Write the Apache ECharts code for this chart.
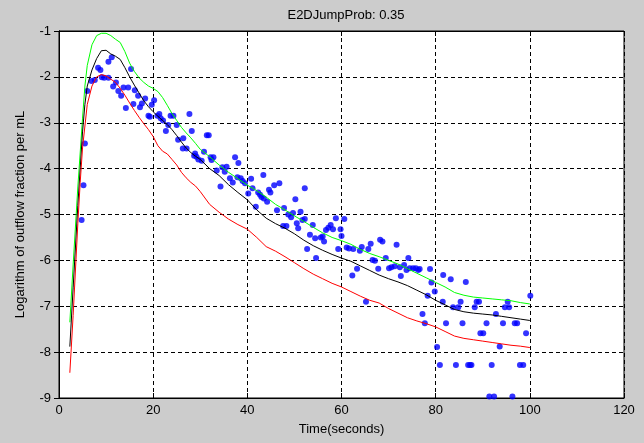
<!DOCTYPE html>
<html><head><meta charset="utf-8">
<script src="https://cdn.jsdelivr.net/npm/echarts@6/dist/echarts.min.js"></script>
<style>html,body{margin:0;padding:0;background:#cccccc;}#c{width:644px;height:443px;}</style>
</head><body><div id="c"></div>
<script>
const titleText = 'E2DJumpProb: 0.35';
const xName = 'Time(seconds)';
const yName = 'Logarithm of outflow fraction per mL';

const greenX = [2.3,3,4,5,5.5,6,7,8,9,10,11,12,13,14,15,16,17,18,19,20,21,22,23,24,25,26,27,28,29,30,32,34,36,38,40,42,44,46,48,50,52,54,56,58,60,62,64,66,68,70,72,74,76,78,80,82,84,86,88,90,92,94,96,98,100];
const greenY = [-7.35,-6.1,-4.4,-2.9,-2.2,-1.75,-1.3,-1.1,-1.05,-1.05,-1.1,-1.18,-1.25,-1.45,-1.7,-1.88,-2.02,-2.12,-2.2,-2.25,-2.32,-2.45,-2.62,-2.8,-2.95,-3.1,-3.22,-3.33,-3.45,-3.58,-3.74,-3.92,-4.08,-4.22,-4.36,-4.48,-4.62,-4.78,-4.9,-5.03,-5.15,-5.28,-5.4,-5.5,-5.57,-5.65,-5.76,-5.85,-5.92,-6.0,-6.08,-6.18,-6.28,-6.38,-6.48,-6.58,-6.7,-6.76,-6.8,-6.82,-6.84,-6.86,-6.88,-6.92,-6.95];

const blackX = [2.3,3,4,5,5.5,6,7,8,9,10,11,12,13,14,15,16,17,18,19,20,21,22,23,24,25,26,27,28,29,30,32,34,36,38,40,42,44,46,48,50,52,54,56,58,60,62,64,66,68,70,72,74,76,78,80,82,84,86,88,90,92,94,96,98,100];
const blackY = [-7.88,-6.6,-4.8,-3.2,-2.6,-2.2,-1.85,-1.6,-1.43,-1.42,-1.5,-1.55,-1.62,-1.8,-2.0,-2.18,-2.35,-2.52,-2.65,-2.76,-2.86,-2.95,-3.04,-3.15,-3.28,-3.42,-3.55,-3.65,-3.73,-3.8,-4.0,-4.15,-4.35,-4.52,-4.68,-4.9,-5.08,-5.2,-5.3,-5.42,-5.56,-5.68,-5.78,-5.87,-5.95,-6.02,-6.12,-6.22,-6.32,-6.4,-6.47,-6.55,-6.65,-6.75,-6.87,-6.97,-7.07,-7.12,-7.15,-7.17,-7.19,-7.22,-7.25,-7.28,-7.31];

const redX = [2.3,3,4,4.5,5,6,7,8,9,10,11,12,13,14,15,16,17,18,19,20,21,22,23,24,25,26,27,28,29,30,32,34,36,38,40,42,44,46,48,50,52,54,56,58,60,62,64,66,68,70,72,74,76,78,80,82,84,86,88,90,92,94,96,98,100];
const redY = [-8.45,-7.2,-5.2,-4.3,-3.55,-2.6,-2.2,-2.0,-1.95,-1.98,-2.05,-2.12,-2.25,-2.4,-2.57,-2.73,-2.88,-3.02,-3.15,-3.3,-3.5,-3.62,-3.68,-3.8,-3.92,-4.08,-4.2,-4.3,-4.38,-4.5,-4.78,-4.95,-5.1,-5.22,-5.32,-5.5,-5.7,-5.8,-5.92,-6.05,-6.18,-6.3,-6.4,-6.5,-6.58,-6.68,-6.78,-6.87,-6.93,-7.05,-7.15,-7.25,-7.32,-7.38,-7.45,-7.55,-7.65,-7.7,-7.73,-7.76,-7.79,-7.82,-7.85,-7.87,-7.9];

const dotX = [4.8,5.2,5.5,6.0,6.9,7.6,8.3,8.8,9.1,9.6,10.5,10.5,11.2,11.5,12.1,12.6,13.2,13.7,14.2,14.7,15.3,15.8,16.1,16.8,17.2,17.6,18.3,19.0,19.3,19.7,20.2,20.9,21.3,21.6,22.1,22.7,23.2,23.7,24.3,25.0,25.3,26.3,26.4,27.1,27.7,28.2,28.7,28.9,29.2,29.6,30.3,30.8,31.4,31.8,32.2,32.4,32.8,33.5,34.3,34.7,35.2,35.6,36.3,36.9,37.4,37.9,38.1,38.6,39.0,39.5,40.2,40.8,41.1,41.8,42.3,42.7,43.0,43.4,43.5,44.2,44.6,44.9,45.7,46.3,46.8,47.6,47.8,48.3,48.7,49.3,49.7,50.2,50.5,50.8,51.3,51.7,52.2,52.2,52.7,53.3,53.9,54.4,54.6,55.6,56.0,56.3,56.7,57.2,57.7,58.2,58.8,59.3,59.8,60.0,60.6,61.1,61.6,62.3,62.5,63.3,63.9,64.3,65.2,65.7,66.2,66.6,67.1,67.8,68.2,68.7,69.4,70.1,70.6,71.3,71.7,72.4,72.6,73.3,73.8,74.2,74.5,75.2,75.8,76.3,76.6,77.2,77.7,78.3,78.8,79.1,79.8,80.3,80.9,81.5,81.6,82.2,83.2,83.7,84.3,84.8,85.3,85.7,86.4,86.9,87.3,87.6,88.3,88.7,89.2,89.5,90.1,90.8,91.4,91.9,92.4,92.8,93.6,94.3,94.7,95.3,95.6,96.3,96.8,97.3,97.9,98.6,99.2,100.1];
const dotY = [-5.12,-4.36,-3.45,-2.31,-2.09,-2.07,-1.80,-1.85,-2.01,-2.02,-2.02,-1.67,-1.57,-2.21,-2.12,-2.31,-2.41,-2.23,-2.68,-2.23,-1.83,-2.59,-2.29,-2.41,-2.66,-2.58,-2.47,-2.85,-2.87,-2.61,-2.51,-2.85,-2.81,-2.90,-2.95,-3.18,-3.05,-2.85,-2.85,-3.05,-3.37,-3.56,-3.34,-3.56,-2.81,-3.18,-3.72,-3.67,-3.74,-3.80,-3.83,-3.63,-3.27,-3.27,-3.75,-3.81,-3.75,-4.04,-4.39,-3.97,-4.07,-3.96,-4.21,-4.30,-3.75,-4.19,-3.88,-4.21,-4.27,-4.32,-4.54,-4.22,-4.43,-4.83,-4.52,-4.57,-4.62,-4.14,-4.65,-4.72,-4.46,-4.52,-4.36,-4.91,-4.32,-5.25,-4.86,-5.25,-5.00,-5.06,-4.97,-4.67,-5.19,-5.30,-4.94,-5.12,-4.43,-5.10,-5.75,-5.44,-5.23,-5.52,-5.95,-5.50,-5.48,-5.59,-5.34,-5.29,-5.23,-5.32,-5.08,-5.75,-5.32,-5.47,-5.10,-5.72,-5.74,-6.33,-5.75,-6.18,-5.79,-5.71,-6.90,-5.75,-5.64,-5.99,-6.01,-6.18,-5.55,-5.59,-5.95,-6.17,-6.15,-6.13,-5.66,-6.15,-6.34,-6.10,-6.21,-5.95,-6.17,-6.17,-6.17,-6.21,-6.19,-7.17,-7.37,-6.77,-6.19,-6.48,-6.68,-7.89,-8.28,-6.90,-6.32,-7.37,-6.41,-7.02,-8.28,-7.02,-6.90,-7.37,-6.47,-8.28,-8.28,-8.28,-7.02,-6.90,-6.90,-7.59,-7.59,-7.37,-8.97,-8.28,-8.97,-7.17,-7.88,-7.37,-7.02,-6.90,-7.02,-8.97,-7.37,-7.37,-8.28,-8.28,-7.59,-6.77];

const xTicks = [0,20,40,60,80,100,120];
const yTicks = [-9,-8,-7,-6,-5,-4,-3,-2,-1];

const zip = (a,b) => a.map((v,i)=>[v,b[i]]);
const font = 'Liberation Sans, Arial, sans-serif';
const gridLine = {show:true, lineStyle:{color:'#000', type:[4,3], width:1}};

const chart = echarts.init(document.getElementById('c'), null, {renderer:'canvas'});
chart.setOption({
  backgroundColor:'#cccccc',
  animation:false,
  title:{text:titleText, left:341, textAlign:'center', top:4,
    textStyle:{fontFamily:font, fontSize:13, fontWeight:'normal', color:'#000'}},
  grid:{left:59, right:20, top:31, bottom:45, show:true, backgroundColor:'#fff', borderColor:'#000', borderWidth:1},
  xAxis:[{type:'value', min:xTicks[0], max:xTicks[xTicks.length-1], interval:xTicks[1]-xTicks[0],
    name:xName, nameLocation:'middle', nameGap:25,
    nameTextStyle:{fontFamily:font, fontSize:13, color:'#000'},
    axisLine:{show:true, lineStyle:{color:'#000'}}, axisTick:{show:true, inside:true, length:5, lineStyle:{color:'#000'}},
    axisLabel:{fontFamily:font, fontSize:13, color:'#000', margin:6},
    splitLine:gridLine},
   {type:'value', position:'top', min:xTicks[0], max:xTicks[xTicks.length-1], interval:xTicks[1]-xTicks[0],
    axisLine:{show:true, lineStyle:{color:'#000'}}, axisTick:{show:true, inside:true, length:5, lineStyle:{color:'#000'}},
    axisLabel:{show:false}, splitLine:{show:false}}],
  yAxis:[{type:'value', min:yTicks[0], max:yTicks[yTicks.length-1], interval:1,
    name:yName, nameLocation:'middle', nameGap:32,
    nameTextStyle:{fontFamily:font, fontSize:13, color:'#000'},
    axisLine:{show:true, lineStyle:{color:'#000'}}, axisTick:{show:true, inside:true, length:5, lineStyle:{color:'#000'}},
    axisLabel:{fontFamily:font, fontSize:13, color:'#000', margin:8},
    splitLine:gridLine},
   {type:'value', position:'right', min:yTicks[0], max:yTicks[yTicks.length-1], interval:1,
    axisLine:{show:true, lineStyle:{color:'#000'}}, axisTick:{show:true, inside:true, length:5, lineStyle:{color:'#000'}},
    axisLabel:{show:false}, splitLine:{show:false}}],
  series:[
    {type:'line', data:zip(greenX,greenY), symbol:'none', lineStyle:{color:'#00ff00', width:1}, xAxisIndex:0, yAxisIndex:0},
    {type:'line', data:zip(blackX,blackY), symbol:'none', lineStyle:{color:'#000000', width:1}, xAxisIndex:0, yAxisIndex:0},
    {type:'line', data:zip(redX,redY), symbol:'none', lineStyle:{color:'#ff0000', width:1}, xAxisIndex:0, yAxisIndex:0},
    {type:'scatter', data:zip(dotX,dotY), symbol:'circle', symbolSize:6, itemStyle:{color:'#0000ff'}, xAxisIndex:0, yAxisIndex:0}
  ]
});
</script></body></html>
